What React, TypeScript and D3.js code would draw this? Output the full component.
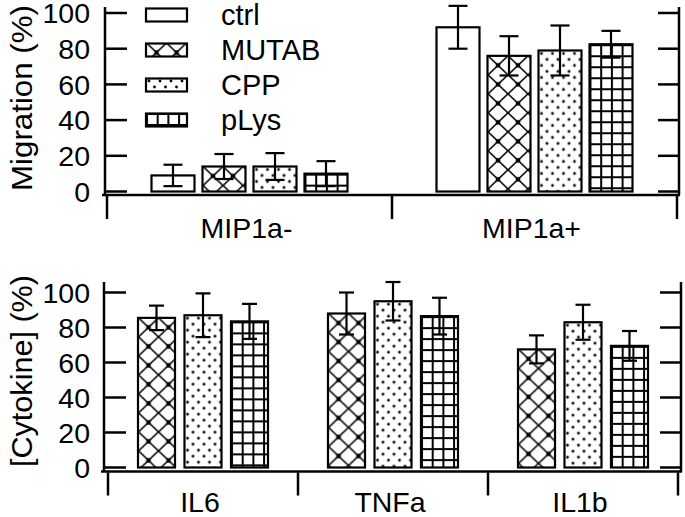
import React from "react";
import * as d3 from "d3";

const seriesTop = ["ctrl", "MUTAB", "CPP", "pLys"];
const groupsTop = ["MIP1a-", "MIP1a+"];
const migMinus = [9, 14, 14, 10];
const migMinusErr = [6, 7, 7.5, 7];
const migPlus = [92, 76, 79, 82.5];
const migPlusErr = [12, 11, 14, 7.5];

const seriesBot = ["MUTAB", "CPP", "pLys"];
const groupsBot = ["IL6", "TNFa", "IL1b"];
const il6 = [85.5, 87, 83.5];
const il6Err = [7, 12.5, 10];
const tnfa = [88, 95, 86.5];
const tnfaErr = [12, 11, 10.5];
const il1b = [67.5, 83, 69.5];
const il1bErr = [8, 10, 8.5];

const yTicks = [0, 20, 40, 60, 80, 100];

const FONT = "Liberation Sans, Arial, sans-serif";

function Pattern({ id, kind, x, y }: { id: string; kind: string; x: number; y: number }) {
  if (kind === "MUTAB") {
    const w = 20, h = 19;
    return (
      <pattern id={id} patternUnits="userSpaceOnUse" x={x + 0.5} y={y} width={w} height={h}>
        <rect width={w} height={h} fill="#fff" />
        <line x1={0} y1={0} x2={w} y2={h} stroke="#000" strokeWidth={1.6} />
        <line x1={w} y1={0} x2={0} y2={h} stroke="#000" strokeWidth={1.6} />
        <rect x={w / 2 - 2.2} y={h / 2 - 2.2} width={4.4} height={4.4} fill="#000" />
      </pattern>
    );
  }
  if (kind === "CPP") {
    const w = 11, h = 12;
    return (
      <pattern id={id} patternUnits="userSpaceOnUse" x={x} y={y} width={w} height={h}>
        <rect width={w} height={h} fill="#fff" />
        <circle cx={3} cy={3} r={1.4} fill="#000" />
        <circle cx={8.5} cy={9} r={1.4} fill="#000" />
      </pattern>
    );
  }
  if (kind === "pLys") {
    const w = 10.7, h = 11;
    return (
      <pattern id={id} patternUnits="userSpaceOnUse" x={x} y={y} width={w} height={h}>
        <rect width={w} height={h} fill="#fff" />
        <rect x={0} y={0} width={2} height={h} fill="#000" />
        <rect x={0} y={0} width={w} height={2} fill="#000" />
      </pattern>
    );
  }
  return null;
}

type Bar = { key: string; kind: string; x: number; w: number; v: number; e: number };

function Panel({
  pid, groups, series, values, errs, yRange, xRange, axisY, axisTop, rightX, leftX,
  innerPad, capW, label, labelLen, labelCY, labelDy,
}: any) {
  const y = d3.scaleLinear().domain([0, 100]).range(yRange);
  const gx = d3.scaleBand<string>().domain(groups).range(xRange).paddingInner(0).paddingOuter(0);
  const step = gx.bandwidth();
  const inner = d3.scaleBand<string>().domain(series).range([-innerPad, innerPad]).paddingInner(series.length === 4 ? 0.157 : 0.204);
  const bars: Bar[] = [];
  groups.forEach((g: string, gi: number) => {
    series.forEach((s: string, si: number) => {
      const cx = (gx(g) as number) + step / 2;
      bars.push({ key: `${pid}-${gi}-${si}`, kind: s, x: cx + (inner(s) as number), w: inner.bandwidth(), v: values[gi][si], e: errs[gi][si] });
    });
  });
  const y0 = y(0);
  const bounds = [...groups.map((g: string) => gx(g) as number), xRange[1]];
  return (
    <g>
      <defs>
        {bars.map((b) => (
          <Pattern key={b.key} id={`p-${b.key}`} kind={b.kind} x={b.x} y={y(b.v)} />
        ))}
      </defs>
      <line x1={leftX} x2={leftX} y1={axisTop} y2={axisY} stroke="#000" strokeWidth={2.5} />
      <line x1={rightX} x2={rightX} y1={axisTop} y2={axisY} stroke="#000" strokeWidth={2.5} />
      <line x1={leftX - 3} x2={rightX + 1} y1={axisY} y2={axisY} stroke="#000" strokeWidth={2.5} />
      {yTicks.map((t) => (
        <g key={t}>
          <line x1={leftX} x2={leftX + 22} y1={y(t)} y2={y(t)} stroke="#000" strokeWidth={2.5} />
          <line x1={rightX - 21} x2={rightX} y1={y(t)} y2={y(t)} stroke="#000" strokeWidth={2.5} />
          <text x={90} y={y(t)} dy="0.36em" textAnchor="end" fontFamily={FONT} fontSize={28.5} fill="#000">{t}</text>
        </g>
      ))}
      {bounds.map((bx: number, i: number) => (
        <line key={i} x1={bx} x2={bx} y1={axisY + 1} y2={axisY + 24} stroke="#000" strokeWidth={2.5} />
      ))}
      {groups.map((g: string) => (
        <text key={g} x={(gx(g) as number) + step / 2 - 3} y={axisY + labelDy} textAnchor="middle" fontFamily={FONT} fontSize={28.5} fill="#000">{g}</text>
      ))}
      <text transform={`translate(32,${labelCY}) rotate(-90)`} textAnchor="middle" fontFamily={FONT} fontSize={29}
        textLength={labelLen} lengthAdjust="spacingAndGlyphs" fill="#000">{label}</text>
      {bars.map((b) => (
        <g key={b.key}>
          <rect x={b.x} y={y(b.v)} width={b.w} height={y0 - y(b.v)}
            fill={b.kind === "ctrl" ? "#fff" : `url(#p-${b.key})`} stroke="#000" strokeWidth={2.2} />
          <line x1={b.x + b.w / 2} x2={b.x + b.w / 2} y1={y(b.v - b.e)} y2={y(b.v + b.e)} stroke="#000" strokeWidth={2.2} />
          <line x1={b.x + b.w / 2 - capW / 2} x2={b.x + b.w / 2 + capW / 2} y1={y(b.v + b.e)} y2={y(b.v + b.e)} stroke="#000" strokeWidth={2.2} />
          <line x1={b.x + b.w / 2 - capW / 2} x2={b.x + b.w / 2 + capW / 2} y1={y(b.v - b.e)} y2={y(b.v - b.e)} stroke="#000" strokeWidth={2.2} />
        </g>
      ))}
    </g>
  );
}

export default function App() {
  const legendY = d3.scaleBand<string>().domain(seriesTop).range([0, 140]);
  return (
    <svg width={685} height={517} style={{ position: "absolute", left: 0, top: 0, background: "#fff" }}>
      <rect width={685} height={517} fill="#fff" />
      <Panel pid="t" groups={groupsTop} series={seriesTop}
        values={[migMinus, migPlus]} errs={[migMinusErr, migPlusErr]}
        yRange={[191.5, 13]} xRange={[107, 677]} axisY={195} axisTop={7} leftX={105} rightX={679}
        innerPad={98} capW={19} label="Migration (%)" labelLen={186} labelCY={98} labelDy={43} />
      <Panel pid="b" groups={groupsBot} series={seriesBot}
        values={[il6, tnfa, il1b]} errs={[il6Err, tnfaErr, il1bErr]}
        yRange={[467.5, 292.5]} xRange={[108, 678]} axisY={471.5} axisTop={282} leftX={104} rightX={681}
        innerPad={65} capW={15} label="[Cytokine] (%)" labelLen={192} labelCY={371} labelDy={40.5} />
      <defs>
        {seriesTop.map((s) => (
          <Pattern key={s} id={`leg-${s}`} kind={s} x={146} y={(legendY(s) as number) + 8} />
        ))}
      </defs>
      {seriesTop.map((s) => {
        const cy = (legendY(s) as number) + 15;
        return (
          <g key={s}>
            <rect x={146} y={cy - 6.5} width={41} height={13} fill={s === "ctrl" ? "#fff" : `url(#leg-${s})`} stroke="#000" strokeWidth={2.2} />
            <text x={221} y={cy + 10} fontFamily={FONT} fontSize={29} fill="#000">{s}</text>
          </g>
        );
      })}
    </svg>
  );
}
